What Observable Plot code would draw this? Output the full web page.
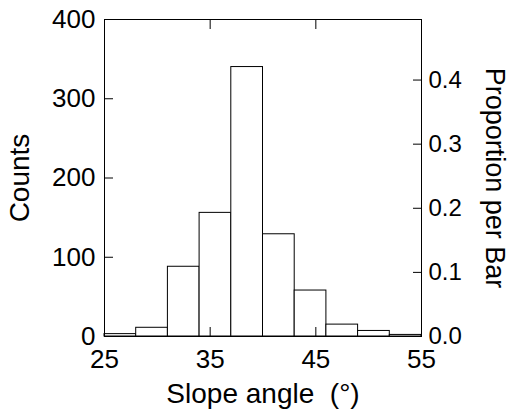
<!DOCTYPE html>
<html><head><meta charset="utf-8">
<script src="https://cdn.jsdelivr.net/npm/d3@7"></script>
<script src="https://cdn.jsdelivr.net/npm/@observablehq/plot@0.6"></script>
<style>body{margin:0;background:#fff}</style>
</head><body><div id="chart"></div>
<script>
const binStarts = [25, 28, 31, 34, 37, 40, 43, 46, 49, 52];
const binWidth = 3;
const counts = [3, 11, 88, 156, 340, 129, 58, 15, 7, 2];
const xTicks = [25, 35, 45, 55];
const countTicks = [0, 100, 200, 300, 400];
const propTicks = [0, 0.1, 0.2, 0.3, 0.4];
const xTitle = "Slope angle  (°)";
const yTitle = "Counts";
const y2Title = "Proportion per Bar";

const total = d3.sum(counts);
const bars = binStarts.map((s, i) => ({x1: s, x2: s + binWidth, count: counts[i]}));
const propCounts = propTicks.map(p => p * total);
const font = "'Liberation Sans', Arial, Helvetica, sans-serif";

const chart = Plot.plot({
  width: 510,
  height: 411,
  marginLeft: 104,
  marginRight: 89,
  marginTop: 19,
  marginBottom: 75,
  x: {domain: [25, 55]},
  y: {domain: [0, 400]},
  style: {fontFamily: font, fontSize: "26px", color: "black", background: "white"},
  marks: [
    Plot.rectY(bars, {x1: "x1", x2: "x2", y: "count", fill: "white", stroke: "black", strokeWidth: 1}),
    Plot.frame({stroke: "black"}),
    Plot.axisX({ticks: xTicks, anchor: "bottom", tickSize: -9, text: null, label: null}),
    Plot.axisX({ticks: xTicks, anchor: "top", tickSize: -9, text: null, label: null}),
    Plot.axisX({ticks: xTicks, anchor: "bottom", tickSize: 0, tickPadding: 13, label: null, fontSize: 26, tickFormat: d => String(d)}),
    Plot.axisY({ticks: countTicks, anchor: "left", tickSize: -9, text: null, label: null}),
    Plot.axisY({ticks: countTicks, anchor: "left", tickSize: 0, tickPadding: 9, label: null, fontSize: 26, tickFormat: d => String(d)}),
    Plot.axisY({ticks: propCounts, anchor: "right", tickSize: -9, text: null, label: null}),
    Plot.axisY({ticks: propCounts, anchor: "right", tickSize: 0, tickPadding: 7, label: null, fontSize: 24,
      tickFormat: d => (d / total).toFixed(1)}),
    Plot.text([yTitle], {text: d => d, frameAnchor: "left", dx: -84, rotate: -90, fontSize: 28, textAnchor: "middle", lineAnchor: "middle"}),
    Plot.text([y2Title], {text: d => d, frameAnchor: "right", dx: 73, rotate: 90, fontSize: 27, textAnchor: "middle", lineAnchor: "middle"}),
    Plot.text([xTitle], {text: d => d, frameAnchor: "bottom", dy: 58, fontSize: 28, textAnchor: "middle", lineAnchor: "middle"})
  ]
});
document.getElementById("chart").appendChild(chart);
</script>
</body></html>
